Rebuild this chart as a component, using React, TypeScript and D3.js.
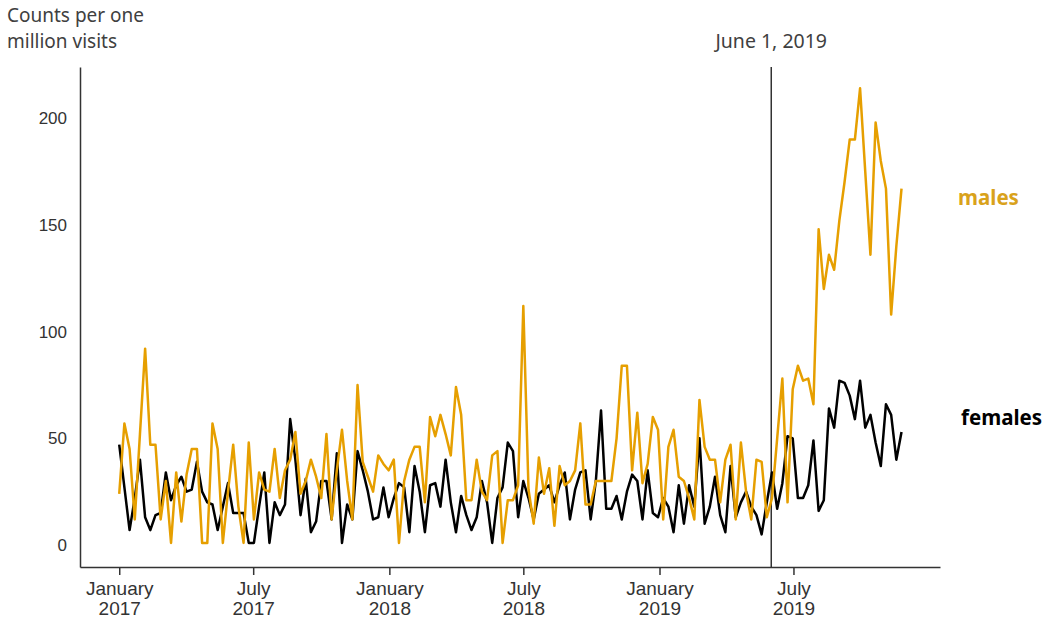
import { useEffect, useRef } from 'react';
import * as d3 from 'd3';

// weekly series, first week = Jan 1 2017
const startWeek = new Date(2017, 0, 1);

const females = [
  47, 27, 7, 22, 40, 13, 7, 14, 15, 34, 21, 28, 32, 25, 26, 39, 25, 20, 19, 7,
  18, 29, 15, 15, 15, 1, 1, 18, 34, 1, 20, 14, 19, 59, 40, 14, 31, 6, 11, 30,
  30, 12, 43, 1, 19, 12, 44, 35, 25, 12, 13, 27, 13, 22, 29, 27, 6, 37, 25, 6,
  28, 29, 18, 40, 20, 6, 23, 14, 7, 13, 30, 20, 1, 22, 27, 48, 44, 13, 30, 22,
  12, 24, 26, 28, 20, 28, 34, 12, 26, 34, 35, 12, 30, 63, 17, 17, 23, 12, 25, 33,
  30, 12, 35, 15, 13, 22, 18, 6, 28, 10, 28, 18, 50, 10, 18, 32, 14, 6, 37, 13,
  20, 25, 18, 14, 5, 20, 34, 17, 29, 51, 50, 22, 22, 28, 49, 16, 21, 64, 55, 77,
  76, 70, 59, 77, 55, 61, 48, 37, 66, 61, 40, 53,
];

const males = [
  24, 57, 45, 12, 52, 92, 47, 47, 12, 30, 1, 34, 11, 33, 45, 45, 1, 1, 57, 45,
  1, 25, 47, 18, 1, 48, 12, 34, 26, 25, 45, 22, 35, 40, 53, 24, 30, 40, 32, 22,
  52, 12, 35, 54, 30, 12, 75, 39, 32, 25, 42, 38, 35, 40, 1, 30, 40, 46, 46, 20,
  60, 51, 61, 52, 42, 74, 61, 21, 21, 40, 25, 21, 42, 44, 1, 21, 21, 28, 112, 26,
  10, 41, 24, 36, 9, 37, 28, 30, 35, 57, 19, 19, 30, 30, 30, 30, 50, 84, 84, 35,
  62, 29, 38, 60, 54, 12, 46, 54, 32, 30, 22, 12, 68, 46, 40, 40, 20, 40, 47, 12,
  48, 25, 12, 40, 39, 13, 22, 50, 78, 20, 73, 84, 77, 78, 66, 148, 120, 136, 129, 152,
  170, 190, 190, 214, 175, 136, 198, 180, 167, 108, 140, 167,
];

const yTicks = [0, 50, 100, 150, 200];
const xTickDates = [
  new Date(2017, 0, 1),
  new Date(2017, 6, 1),
  new Date(2018, 0, 1),
  new Date(2018, 6, 1),
  new Date(2019, 0, 1),
  new Date(2019, 6, 1),
];
const markerDate = new Date(2019, 5, 1);

const ORANGE = '#E69F00';

export default function App() {
  const ref = useRef<SVGSVGElement>(null);

  useEffect(() => {
    const width = 1050;
    const height = 625;
    const svg = d3.select(ref.current).attr('width', width).attr('height', height);
    svg.selectAll('*').remove();

    const x = d3
      .scaleTime()
      .domain([new Date(2016, 10, 9), new Date(2020, 0, 15)])
      .range([80, 940]);
    const y = d3.scaleLinear().domain([-10.3, 224]).range([567, 67]);

    const weeks = females.map((_, i) => d3.timeWeek.offset(startWeek, i));

    // x axis
    const xAxis = svg
      .append('g')
      .attr('transform', 'translate(0,567)')
      .call(
        d3
          .axisBottom(x)
          .tickValues(xTickDates)
          .tickSize(8)
          .tickSizeOuter(0)
          .tickFormat(() => '')
      );
    xAxis.selectAll('path, line').attr('stroke', '#333').attr('stroke-width', 1.5);
    xAxis
      .selectAll('.tick')
      .append('text')
      .attr('text-anchor', 'middle')
      .attr('fill', '#333')
      .style('font-family', '"Liberation Sans", Arial, sans-serif')
      .style('font-size', '19px')
      .each(function (d: any) {
        const t = d3.select(this);
        t.append('tspan').attr('x', 0).attr('y', 28).text(d3.timeFormat('%B')(d));
        t.append('tspan').attr('x', 0).attr('y', 48).text(d3.timeFormat('%Y')(d));
      });

    // y axis
    const yAxis = svg
      .append('g')
      .attr('transform', 'translate(80,0)')
      .call(d3.axisLeft(y).tickValues(yTicks).tickSize(0).tickSizeOuter(0).tickPadding(13));
    yAxis.select('.domain').attr('stroke', '#333').attr('stroke-width', 1.5);
    yAxis
      .selectAll('text')
      .attr('fill', '#333')
      .style('font-family', '"Liberation Sans", Arial, sans-serif')
      .style('font-size', '17px');

    // June 1 2019 marker
    svg
      .append('line')
      .attr('x1', x(markerDate))
      .attr('x2', x(markerDate))
      .attr('y1', 67)
      .attr('y2', 567)
      .attr('stroke', '#333')
      .attr('stroke-width', 1.5);
    svg
      .append('text')
      .attr('x', x(markerDate))
      .attr('y', 48)
      .attr('text-anchor', 'middle')
      .attr('fill', '#404040')
      .style('font-family', '"Noto Sans", sans-serif')
      .style('font-size', '19.5px')
      .text('June 1, 2019');

    const line = d3
      .line<number>()
      .x((_, i) => x(weeks[i]))
      .y(d => y(d));

    svg
      .append('path')
      .datum(females)
      .attr('d', line)
      .attr('fill', 'none')
      .attr('stroke', '#000')
      .attr('stroke-width', 2.5)
      .attr('stroke-linejoin', 'round');
    svg
      .append('path')
      .datum(males)
      .attr('d', line)
      .attr('fill', 'none')
      .attr('stroke', ORANGE)
      .attr('stroke-width', 2.5)
      .attr('stroke-linejoin', 'round');

    // title
    const title = svg
      .append('text')
      .attr('fill', '#404040')
      .style('font-family', '"Noto Sans", sans-serif')
      .style('font-size', '19px');
    title.append('tspan').attr('x', 7).attr('y', 22).text('Counts per one');
    title.append('tspan').attr('x', 7).attr('y', 48).text('million visits');

    // series labels
    svg
      .append('text')
      .attr('x', 958)
      .attr('y', 205)
      .attr('fill', '#D9A21B')
      .style('font-family', '"Noto Sans", sans-serif')
      .style('font-weight', 'bold')
      .style('font-size', '20.5px')
      .text('males');
    svg
      .append('text')
      .attr('x', 961)
      .attr('y', 425)
      .attr('fill', '#000')
      .style('font-family', '"Noto Sans", sans-serif')
      .style('font-weight', 'bold')
      .style('font-size', '20.5px')
      .text('females');
  }, []);

  return (
    <svg
      ref={ref}
      style={{ position: 'absolute', left: 0, top: 0, background: '#fff' }}
      role="img"
      aria-label="Counts per one million visits, males and females"
    />
  );
}
